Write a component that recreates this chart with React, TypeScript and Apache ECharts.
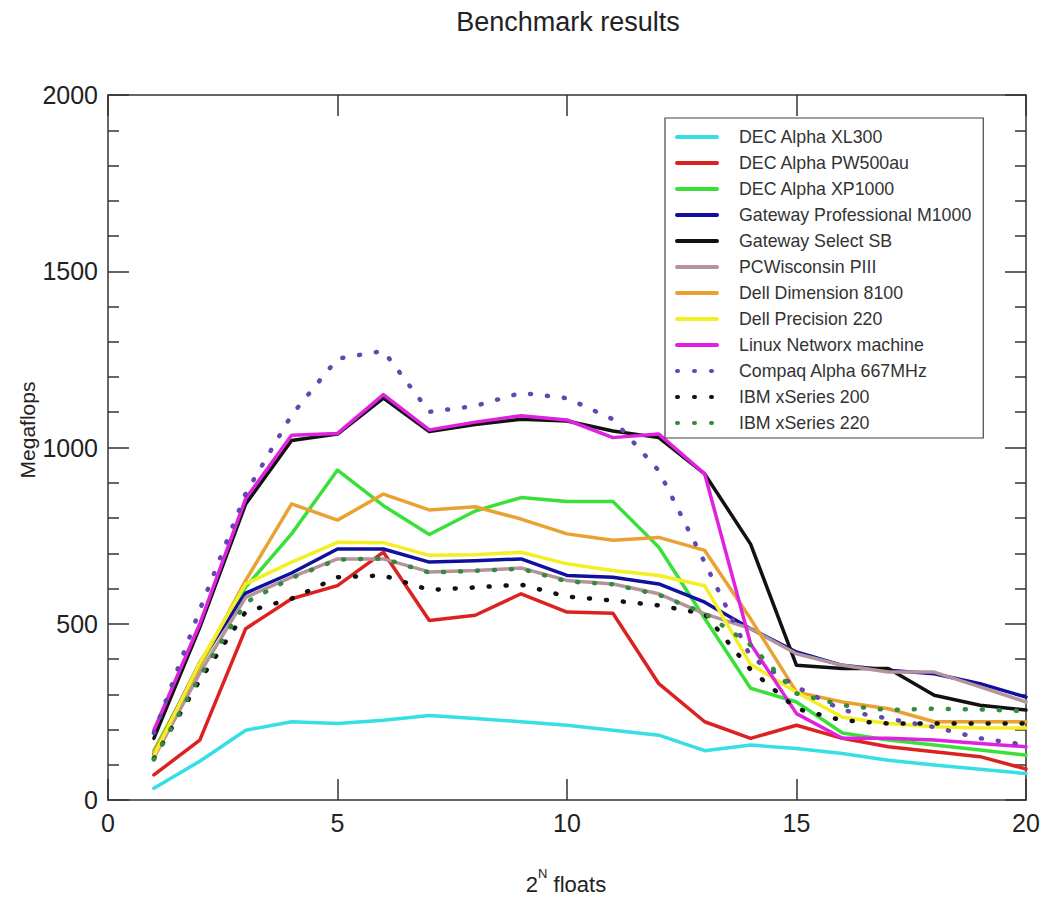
import React, { useEffect, useRef } from "react";
import * as echarts from "echarts";

const N = [1, 2, 3, 4, 5, 6, 7, 8, 9, 10, 11, 12, 13, 14, 15, 16, 17, 18, 19, 20];

const decAlphaXL300 = [33, 110, 198, 222, 217, 226, 240, 231, 222, 212, 198, 184, 140, 156, 146, 132, 113, 99, 87, 75];
const decAlphaPW500au = [71, 170, 486, 571, 608, 703, 509, 524, 585, 533, 530, 330, 222, 175, 212, 175, 151, 137, 123, 88];
const decAlphaXP1000 = [140, 380, 604, 755, 936, 835, 753, 820, 858, 847, 847, 717, 515, 317, 278, 190, 170, 156, 142, 127];
const gatewayProM1000 = [130, 390, 587, 644, 712, 712, 675, 679, 684, 637, 632, 613, 561, 486, 420, 382, 368, 358, 330, 292];
const gatewaySelectSB = [175, 490, 840, 1020, 1038, 1140, 1045, 1065, 1080, 1075, 1047, 1028, 925, 726, 382, 373, 373, 297, 269, 255];
const pcWisconsinPIII = [120, 360, 575, 632, 684, 684, 647, 651, 658, 623, 613, 585, 528, 486, 415, 382, 363, 363, 321, 278];
const dellDimension8100 = [135, 380, 623, 840, 794, 868, 823, 832, 797, 755, 737, 745, 708, 514, 306, 278, 259, 222, 222, 222];
const dellPrecision220 = [125, 390, 613, 675, 731, 730, 694, 696, 703, 670, 651, 637, 608, 385, 306, 235, 217, 208, 204, 204];
const linuxNetworx = [198, 500, 855, 1035, 1040, 1150, 1050, 1072, 1090, 1078, 1028, 1038, 925, 443, 245, 175, 175, 170, 160, 151];
const compaqAlpha667 = [190, 540, 870, 1092, 1252, 1274, 1101, 1118, 1155, 1140, 1080, 934, 674, 406, 321, 255, 231, 207, 175, 156];
const ibmXSeries200 = [118, 340, 534, 571, 632, 637, 596, 603, 611, 577, 566, 552, 528, 370, 259, 226, 217, 217, 217, 217];
const ibmXSeries220 = [115, 350, 560, 630, 682, 685, 645, 650, 656, 620, 612, 582, 530, 440, 302, 269, 255, 259, 257, 252];

const seriesNames = [
  "DEC Alpha XL300",
  "DEC Alpha PW500au",
  "DEC Alpha XP1000",
  "Gateway Professional M1000",
  "Gateway Select SB",
  "PCWisconsin PIII",
  "Dell Dimension 8100",
  "Dell Precision 220",
  "Linux Networx machine",
  "Compaq Alpha 667MHz",
  "IBM xSeries 200",
  "IBM xSeries 220",
];
const seriesValues = [
  decAlphaXL300,
  decAlphaPW500au,
  decAlphaXP1000,
  gatewayProM1000,
  gatewaySelectSB,
  pcWisconsinPIII,
  dellDimension8100,
  dellPrecision220,
  linuxNetworx,
  compaqAlpha667,
  ibmXSeries200,
  ibmXSeries220,
];
const seriesColors = [
  "#36dfe3",
  "#dc2121",
  "#3ae03a",
  "#10109e",
  "#111111",
  "#b3949c",
  "#e9a232",
  "#f3ef22",
  "#df22df",
  "#6446b0",
  "#111111",
  "#348a40",
];
const seriesDotted = [false, false, false, false, false, false, false, false, false, true, true, true];

const xTicks = { min: 0, max: 20, interval: 5 };
const yTicks = { min: 0, max: 2000, interval: 500 };

const FONT = "'Liberation Sans', Arial, Helvetica, sans-serif";

export default function App() {
  const ref = useRef<HTMLDivElement>(null);

  useEffect(() => {
    if (!ref.current) return;
    const chart = echarts.init(ref.current, undefined, { renderer: "svg" });

    const axisLine = { show: true, onZero: false, lineStyle: { color: "#333", width: 1.5 } };
    const majorTick = { show: true, inside: true, length: 21, lineStyle: { color: "#333", width: 1.5 } };
    const minorTick = { show: true, splitNumber: 5, length: 11, lineStyle: { color: "#333", width: 1.5 } };

    const series = seriesNames.map((name, i) => ({
      name,
      type: "line",
      xAxisIndex: 0,
      yAxisIndex: 0,
      symbol: "none",
      showSymbol: false,
      data: N.map((n, j) => [n, seriesValues[i][j]]),
      lineStyle: seriesDotted[i]
        ? { color: seriesColors[i], width: 4.5, type: [1, 16], cap: "round" }
        : { color: seriesColors[i], width: 3.5, cap: "round", join: "round" },
      itemStyle: { color: seriesColors[i] },
      emphasis: { disabled: true },
      z: 2 + i,
    }));

    chart.setOption({
      animation: false,
      backgroundColor: "#ffffff",
      textStyle: { fontFamily: FONT },
      grid: { left: 108, right: 18, top: 95, bottom: 101, containLabel: false },
      legend: {
        data: seriesNames,
        orient: "vertical",
        left: 665,
        top: 118,
        itemWidth: 40,
        itemHeight: 14,
        itemGap: 8,
        padding: [10, 12, 6, 10],
        borderColor: "#444",
        borderWidth: 1.2,
        backgroundColor: "#ffffff",
        selectedMode: false,
        itemStyle: { opacity: 0, color: "rgba(0,0,0,0)", borderWidth: 0 },
        lineStyle: { width: 4 },
        textStyle: { fontSize: 17.8, color: "#333", fontFamily: FONT, padding: [0, 0, 0, 17] },
        z: 20,
      },
      xAxis: [
        {
          type: "value",
          position: "bottom",
          ...xTicks,
          axisLine,
          axisTick: majorTick,
          axisLabel: { show: true, fontSize: 25, color: "#222", margin: 10, fontFamily: FONT },
          splitLine: { show: false },
        },
        {
          type: "value",
          position: "top",
          ...xTicks,
          axisLine,
          axisTick: majorTick,
          axisLabel: { show: false },
          splitLine: { show: false },
        },
      ],
      yAxis: [
        {
          type: "value",
          position: "left",
          ...yTicks,
          axisLine,
          axisTick: majorTick,
          minorTick,
          axisLabel: {
            show: true,
            fontSize: 25,
            color: "#222",
            margin: 10,
            fontFamily: FONT,
            formatter: (v: number) => String(v),
          },
          splitLine: { show: false },
          minorSplitLine: { show: false },
        },
        {
          type: "value",
          position: "right",
          ...yTicks,
          axisLine,
          axisTick: majorTick,
          minorTick,
          axisLabel: { show: false },
          splitLine: { show: false },
          minorSplitLine: { show: false },
        },
      ],
      graphic: [
        {
          type: "text",
          x: 568,
          y: 22,
          style: {
            text: "Benchmark results",
            fontSize: 27,
            fontFamily: FONT,
            fill: "#222",
            textAlign: "center",
            textVerticalAlign: "middle",
          },
        },
        {
          type: "text",
          x: 27,
          y: 430,
          rotation: Math.PI / 2,
          style: {
            text: "Megaflops",
            fontSize: 21,
            fontFamily: FONT,
            fill: "#222",
            textAlign: "center",
            textVerticalAlign: "middle",
          },
        },
        {
          type: "text",
          x: 566,
          y: 884,
          style: {
            text: "2{sup|N} floats",
            fontSize: 22,
            fontFamily: FONT,
            fill: "#222",
            textAlign: "center",
            textVerticalAlign: "middle",
            lineHeight: 34,
            rich: {
              sup: { fontSize: 13, fontFamily: FONT, fill: "#222", verticalAlign: "top", lineHeight: 14 },
            },
          },
        },
      ],
      series,
    });

    return () => chart.dispose();
  }, []);

  return (
    <div
      ref={ref}
      style={{ position: "fixed", left: 0, top: 0, width: 1044, height: 901, background: "#fff" }}
    />
  );
}
